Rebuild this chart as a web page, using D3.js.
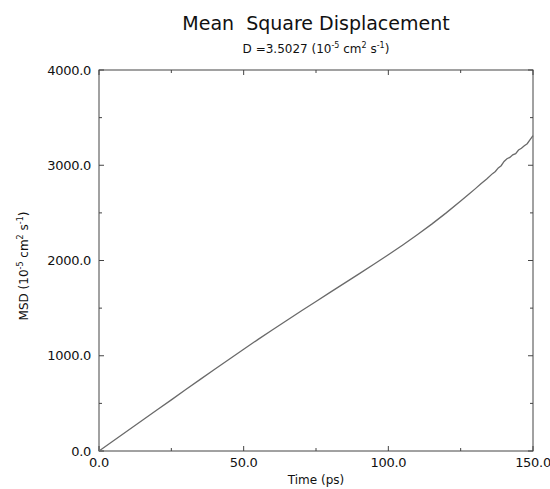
<!DOCTYPE html>
<html><head><meta charset="utf-8">
<script src="https://cdn.jsdelivr.net/npm/d3@7"></script>
<style>body{margin:0;background:#fff}svg{display:block}text{font-family:"DejaVu Sans",sans-serif;fill:#111}</style>
</head><body>
<svg id="c" width="550" height="489"></svg>
<script>
const timePs = [0,5,10,15,20,25,30,35,40,45,50,55,60,65,70,75,80,85,90,95,100,105,110,115,120,125,128,130,132,134,136,137,138,139,140,141,142,143,144,145,146,147,148,149,150];
const msdVals = [0,108,215,322,430,537,645,752,858,963,1068,1172,1273,1373,1473,1570,1668,1765,1862,1960,2060,2163,2270,2382,2500,2625,2700,2752,2805,2855,2912,2935,2972,2995,3040,3068,3082,3110,3122,3160,3178,3205,3226,3268,3310];
const xTicks = [0,50,100,150];
const yTicks = [0,1000,2000,3000,4000];
const xMinor = [25,75,125];
const yMinor = [500,1500,2500,3500];

const svg = d3.select("#c");
const L=99,R=533,T=70,B=451;
const x = d3.scaleLinear().domain([0,150]).range([L,R]);
const y = d3.scaleLinear().domain([0,4000]).range([B,T]);
const fmt = d3.format(".1f");
const axCol="#444";

svg.append("rect").attr("x",L).attr("y",T).attr("width",R-L).attr("height",B-T)
  .attr("fill","none").attr("stroke",axCol).attr("stroke-width",1);

const g = svg.append("g").attr("stroke",axCol).attr("stroke-width",1);
xTicks.forEach(v=>{
  g.append("line").attr("x1",x(v)).attr("x2",x(v)).attr("y1",B).attr("y2",B-5);
  g.append("line").attr("x1",x(v)).attr("x2",x(v)).attr("y1",T).attr("y2",T+5);
});
xMinor.forEach(v=>{
  g.append("line").attr("x1",x(v)).attr("x2",x(v)).attr("y1",B).attr("y2",B-3);
  g.append("line").attr("x1",x(v)).attr("x2",x(v)).attr("y1",T).attr("y2",T+3);
});
yTicks.forEach(v=>{
  g.append("line").attr("x1",L).attr("x2",L+5).attr("y1",y(v)).attr("y2",y(v));
  g.append("line").attr("x1",R).attr("x2",R-5).attr("y1",y(v)).attr("y2",y(v));
});
yMinor.forEach(v=>{
  g.append("line").attr("x1",L).attr("x2",L+3).attr("y1",y(v)).attr("y2",y(v));
  g.append("line").attr("x1",R).attr("x2",R-3).attr("y1",y(v)).attr("y2",y(v));
});

xTicks.forEach(v=>{
  svg.append("text").attr("x",x(v)).attr("y",B+16).attr("text-anchor","middle")
    .attr("font-size",13).attr("letter-spacing",-0.3).text(fmt(v));
});
yTicks.forEach(v=>{
  svg.append("text").attr("x",L-8).attr("y",y(v)+4.5).attr("text-anchor","end")
    .attr("font-size",13).attr("letter-spacing",-0.3).text(fmt(v));
});

const line = d3.line().x((d,i)=>x(timePs[i])).y(d=>y(d));
svg.append("path").attr("d",line(msdVals)).attr("fill","none")
  .attr("stroke","#6a6a6a").attr("stroke-width",1.3);

svg.append("text").attr("x",316).attr("y",30).attr("text-anchor","middle")
  .attr("font-size",19).attr("xml:space","preserve").text("Mean  Square Displacement");
const sub = svg.append("text").attr("x",316).attr("y",53).attr("text-anchor","middle").attr("font-size",12);
sub.append("tspan").text("D =3.5027 (10");
sub.append("tspan").attr("dy",-5).attr("font-size",8).text("-5");
sub.append("tspan").attr("dy",5).text(" cm");
sub.append("tspan").attr("dy",-5).attr("font-size",8).text("2");
sub.append("tspan").attr("dy",5).text(" s");
sub.append("tspan").attr("dy",-5).attr("font-size",8).text("-1");
sub.append("tspan").attr("dy",5).text(")");

svg.append("text").attr("x",316).attr("y",484).attr("text-anchor","middle")
  .attr("font-size",12).text("Time (ps)");

const yl = svg.append("text").attr("transform","translate(28,266) rotate(-90)")
  .attr("text-anchor","middle").attr("font-size",12);
yl.append("tspan").text("MSD (10");
yl.append("tspan").attr("dy",-5).attr("font-size",8).text("-5");
yl.append("tspan").attr("dy",5).text(" cm");
yl.append("tspan").attr("dy",-5).attr("font-size",8).text("2");
yl.append("tspan").attr("dy",5).text(" s");
yl.append("tspan").attr("dy",-5).attr("font-size",8).text("-1");
yl.append("tspan").attr("dy",5).text(")");
</script>
</body></html>
